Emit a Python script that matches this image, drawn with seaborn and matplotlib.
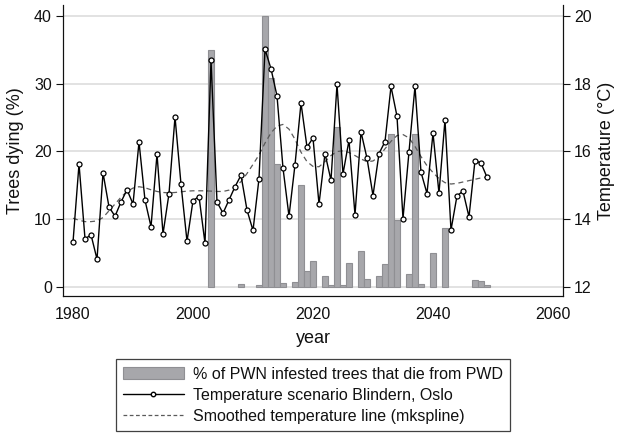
import matplotlib
matplotlib.use("Agg")
import matplotlib.pyplot as plt
from matplotlib.patches import Patch
from matplotlib.lines import Line2D
import seaborn as sns
import numpy as np

years = list(range(1980, 2050))

temperature = [13.33, 15.63, 13.42, 13.54, 12.82, 15.37, 14.36, 14.09, 14.51, 14.87,
               14.45, 16.28, 14.56, 13.78, 15.92, 13.57, 14.76, 17.02, 15.03, 13.35,
               14.55, 14.67, 13.29, 18.69, 14.51, 14.18, 14.57, 14.96, 15.30, 14.27,
               13.67, 15.20, 19.02, 18.44, 17.64, 15.51, 14.09, 15.61, 17.43, 16.13,
               16.40, 14.45, 15.94, 15.15, 17.98, 15.34, 16.33, 14.13, 16.58, 15.80,
               14.70, 15.94, 16.29, 17.92, 17.04, 14.02, 15.99, 17.92, 15.39, 14.76,
               16.54, 14.77, 16.93, 13.68, 14.69, 14.83, 14.07, 15.73, 15.66, 15.24]

smoothed = [14.03, 13.97, 13.93, 13.93, 13.95, 14.05, 14.25, 14.45, 14.65, 14.82,
            14.92, 14.96, 14.93, 14.87, 14.82, 14.79, 14.78, 14.79, 14.81, 14.83,
            14.84, 14.84, 14.84, 14.83, 14.82, 14.82, 14.86, 14.96, 15.11, 15.35,
            15.62, 15.90, 16.25, 16.55, 16.75, 16.80, 16.66, 16.36, 15.98, 15.70,
            15.56, 15.55, 15.70, 15.88, 16.00, 16.02, 15.97, 15.88, 15.78, 15.70,
            15.72, 15.85, 16.08, 16.30, 16.47, 16.50, 16.40, 16.15, 15.85, 15.58,
            15.38, 15.20, 15.08, 15.04, 15.06, 15.10, 15.14, 15.18, 15.22, 15.25]

bar_years = [2003, 2008, 2011, 2012, 2013, 2014, 2015, 2017, 2018, 2019, 2020,
             2022, 2023, 2024, 2025, 2026, 2028, 2029, 2031, 2032, 2033, 2034,
             2036, 2037, 2038, 2040, 2042, 2047, 2048, 2049]
bar_values = [35.0, 0.4, 0.25, 40.0, 30.9, 18.15, 0.64, 0.8, 15.06, 2.4, 3.9,
              1.6, 0.3, 23.6, 0.35, 3.5, 5.36, 1.2, 1.6, 3.35, 22.6, 9.9,
              1.87, 22.6, 0.44, 4.97, 8.66, 1.03, 0.89, 0.3]

x_ticks = [1980, 2000, 2020, 2040, 2060]
left_ticks = [0, 10, 20, 30, 40]
right_ticks = [12, 14, 16, 18, 20]

labels = ["% of PWN infested trees that die from PWD",
          "Temperature scenario Blindern, Oslo",
          "Smoothed temperature line (mkspline)"]

sns.set_style("white")
plt.rcParams["font.family"] = ["Liberation Sans", "DejaVu Sans"]
plt.rcParams["text.color"] = "#111111"
plt.rcParams["axes.labelcolor"] = "#111111"
plt.rcParams["xtick.color"] = "#111111"
plt.rcParams["ytick.color"] = "#111111"

W, H = 618, 433
fig = plt.figure(figsize=(W / 100, H / 100), dpi=100)
ax = fig.add_axes([63 / W, 1 - 296 / H, 500 / W, 291 / H])

bar_face = "#a7a7ab"
bar_edge = "#8f8f93"
sns.barplot(x=bar_years, y=bar_values, native_scale=True, width=1.0,
            color=bar_face, saturation=1, edgecolor=bar_edge, linewidth=0.8, ax=ax)

ax.set_xlim(1978.33, 2061.67)
ax.set_ylim(-1.33, 41.62)
ax.set_xticks(x_ticks)
ax.set_yticks(left_ticks)
ax.set_axisbelow(True)
ax.yaxis.grid(True, color="#dadada", linewidth=1.1)
ax.xaxis.grid(False)

ax2 = ax.twinx()
sns.lineplot(x=years, y=smoothed, ax=ax2, color="#5a5a5a", linewidth=0.9,
             linestyle=(0, (4, 3)))
sns.lineplot(x=years, y=temperature, ax=ax2, color="black", linewidth=1.0,
             marker="o", markersize=3.6, markerfacecolor="white",
             markeredgecolor="black", markeredgewidth=0.9)
ax2.set_ylim(11.734, 20.325)
ax2.set_yticks(right_ticks)

for a in (ax, ax2):
    for s in a.spines.values():
        s.set_color("#111111")
        s.set_linewidth(0.8)
    a.spines["top"].set_visible(False)
    a.tick_params(length=5, width=0.8, color="#111111", labelsize=11.5, pad=3)

ax.set_xlabel("year", fontsize=13, labelpad=6)
ax.set_ylabel("Trees dying (%)", fontsize=13, labelpad=7)
ax2.set_ylabel("Temperature (°C)", fontsize=13, labelpad=4)

handles = [
    Patch(facecolor=bar_face, edgecolor=bar_edge, linewidth=0.8),
    Line2D([0, 0.5, 1], [0, 0, 0], color="black", linewidth=1.0, marker="o",
           markersize=3.2, markerfacecolor="white", markeredgecolor="black",
           markevery=[1]),
    Line2D([], [], color="#5a5a5a", linewidth=0.9, linestyle=(0, (3, 2))),
]
leg = fig.legend(handles, labels, loc="lower center",
                 bbox_to_anchor=(313 / W, 2 / H), fontsize=11.5,
                 frameon=True, fancybox=False, edgecolor="#111111",
                 handlelength=3.8, handletextpad=0.6, labelspacing=0.38,
                 borderpad=0.45, borderaxespad=0)
leg.get_frame().set_linewidth(0.9)

fig.savefig("out.png", dpi=100)
